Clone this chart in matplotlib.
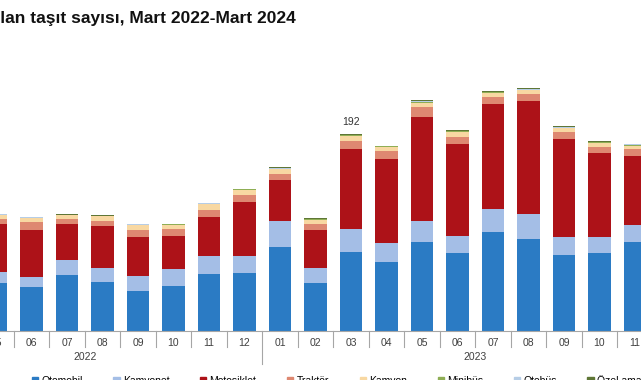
"""
Trafiğe kaydı yapılan taşıt sayısı (bin adet), aylık yığılmış sütun grafik.
Görüntü orijinal grafiğin kırpılmış hali: Mayıs 2022 - Kasım 2023 arası görünüyor.
"""

import matplotlib
matplotlib.use("Agg")
import matplotlib.pyplot as plt
from matplotlib.patches import Patch

plt.rcParams["font.family"] = ["Liberation Sans", "DejaVu Sans"]

TITLE = "Trafiğe kaydı yapılan taşıt sayısı, Mart 2022-Mart 2024"

MONTHS = ["03", "04", "05", "06", "07", "08", "09", "10", "11", "12",
          "01", "02", "03", "04", "05", "06", "07", "08", "09", "10", "11", "12",
          "01", "02", "03"]
YEARS = ["2022"] * 10 + ["2023"] * 12 + ["2024"] * 3

# seriler Mayıs 2022'den (MONTHS[2]) Kasım 2023'e kadar, bin adet
FIRST_BAR = 2
otomobil = [46.4, 43.1, 54.8, 48.0, 39.2, 44.1, 55.5, 56.8, 82.1, 47.0,
            77.2, 67.5, 86.7, 76.2, 96.4, 89.6, 74.0, 76.2, 86.7]
kamyonet = [11.3, 9.7, 14.3, 13.0, 14.3, 16.6, 17.5, 16.6, 25.0, 14.3,
            22.1, 18.2, 20.2, 16.6, 22.1, 24.3, 17.5, 15.0, 16.6]
motosiklet = [46.4, 45.5, 35.1, 41.2, 37.7, 31.8, 37.7, 52.0, 39.9, 37.0,
              77.6, 81.5, 101.9, 89.0, 102.2, 110.3, 95.1, 81.8, 66.9]
traktor = [4.9, 7.8, 4.9, 5.2, 7.1, 6.8, 7.4, 7.4, 5.5, 5.8,
           8.4, 7.8, 9.7, 7.4, 7.4, 6.5, 7.4, 6.4, 7.1]
kamyon = [3.9, 3.9, 3.6, 4.3, 4.9, 4.2, 5.6, 4.6, 4.9, 3.9,
          4.9, 4.5, 3.9, 4.6, 3.9, 3.6, 3.3, 3.9, 3.2]
minibus = [0.4, 0.4, 0.4, 0.4, 0.4, 0.4, 0.4, 0.4, 0.8, 0.6,
           0.7, 0.4, 0.8, 0.5, 0.6, 0.7, 0.8, 0.7, 0.7]
otobus = [0.3, 0.3, 0.3, 0.3, 0.3, 0.3, 0.3, 0.3, 0.5, 0.3,
          0.4, 0.2, 0.5, 0.3, 0.3, 0.4, 0.4, 0.4, 0.4]
ozel = [0.3, 0.3, 0.3, 0.3, 0.3, 0.3, 0.3, 0.3, 1.2, 0.8,
        0.8, 0.4, 1.0, 0.7, 0.8, 0.8, 1.0, 0.8, 0.8]

SERIES = [
    ("Otomobil", otomobil, "#2b7bc4"),
    ("Kamyonet", kamyonet, "#a4bee6"),
    ("Motosiklet", motosiklet, "#ad1218"),
    ("Traktör", traktor, "#de8871"),
    ("Kamyon", kamyon, "#f8d8a2"),
    ("Minibüs", minibus, "#8fae55"),
    ("Otobüs", otobus, "#b6cde6"),
    ("Özel amaçlı taşıtlar", ozel, "#5f7636"),
]

W, H = 641, 380
SLOT = 35.5   # px po mesecu
FIRST_X = -75  # px, centar prvog (Mart 2022) stuba
BASE_Y = 331   # px od vrha
PX_PER_UNIT = 1.027
YMAX = 250


def main():
    fig = plt.figure(figsize=(W / 100, H / 100), dpi=100)
    n = len(MONTHS)
    left_px = FIRST_X - SLOT / 2
    ax = fig.add_axes([left_px / W, (H - BASE_Y) / H,
                       n * SLOT / W, YMAX * PX_PER_UNIT / H])
    ax.set_xlim(-0.5, n - 0.5)
    ax.set_ylim(0, YMAX)

    x = list(range(FIRST_BAR, FIRST_BAR + len(otomobil)))
    bottom = [0.0] * len(x)
    for name, values, color in SERIES:
        ax.bar(x, values, width=0.64, bottom=bottom, color=color,
               linewidth=0, label=name)
        bottom = [b + v for b, v in zip(bottom, values)]

    # vrednost samo za mart
    for xi, total in zip(x, bottom):
        if MONTHS[xi] == "03":
            ax.annotate(f"{total:.0f}", (xi, total), xytext=(0, 5),
                        textcoords="offset points", ha="center", va="bottom",
                        fontsize=7.5, color="#333333")

    for side in ["top", "right", "left"]:
        ax.spines[side].set_visible(False)
    ax.spines["bottom"].set_color("#a6a6a6")
    ax.set_yticks([])
    ax.set_xticks(range(n))
    ax.set_xticklabels(MONTHS, fontsize=7.5, color="#404040")
    ax.tick_params(axis="x", length=0, pad=5)

    # separatori izmedju meseci, duzi izmedju godina
    tr = ax.get_xaxis_transform()
    tick_len = 16 / (YMAX * PX_PER_UNIT)
    year_len = 33 / (YMAX * PX_PER_UNIT)
    for i in range(1, n):
        length = year_len if YEARS[i] != YEARS[i - 1] else tick_len
        ax.plot([i - 0.5, i - 0.5], [0, -length], transform=tr,
                color="#a6a6a6", linewidth=0.8, clip_on=False)

    for year in dict.fromkeys(YEARS):
        idx = [i for i, y in enumerate(YEARS) if y == year]
        center = (idx[0] + idx[-1]) / 2
        ax.annotate(year, (center, 0), xycoords=tr, xytext=(0, -26 * 0.72),
                    textcoords="offset points", ha="center", va="center",
                    fontsize=7.5, color="#404040")

    fig.text(296 / W, 1 - 19 / H, TITLE, ha="right", va="center",
             fontsize=12.5, fontweight="bold", color="#111111")

    handles = [Patch(color=color, label=name) for name, _, color in SERIES]
    fig.legend(handles=handles, loc="center left", ncol=len(SERIES),
               bbox_to_anchor=(32 / W, -0.5 / H), frameon=False, fontsize=7.5,
               handlelength=0.6, handleheight=0.6, handletextpad=0.3,
               columnspacing=2.95, borderpad=0, borderaxespad=0)

    fig.savefig("out.png", dpi=100)
    plt.close(fig)


if __name__ == "__main__":
    main()
